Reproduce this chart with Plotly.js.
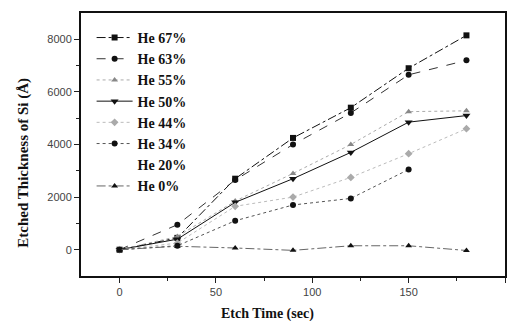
<!DOCTYPE html>
<html><head><meta charset="utf-8">
<script src="https://cdn.plot.ly/plotly-3.0.1.min.js"></script>
<style>html,body{margin:0;padding:0;background:#fff}#chart{width:513px;height:321px}</style>
</head><body><div id="chart"></div>
<script>
const etchTime = [0, 30, 60, 90, 120, 150, 180];
const he67 = [0, 450, 2700, 4250, 5400, 6900, 8150];
const he63 = [0, 950, 2650, 4000, 5200, 6650, 7200];
const he55 = [0, 500, 1850, 2900, 4000, 5250, 5280];
const he50 = [0, 400, 1800, 2700, 3700, 4850, 5100];
const he44 = [0, 250, 1650, 2000, 2750, 3650, 4600];
const he34 = [0, 150, 1100, 1700, 1950, 3050, null];
const he20 = [null, null, null, null, null, null, null];
const he0 = [0, 130, 65, -25, 150, 150, -30];
const seriesNames = ['He 67%', 'He 63%', 'He 55%', 'He 50%', 'He 44%', 'He 34%', 'He 20%', 'He 0%'];
const xTitle = 'Etch Time (sec)';
const yTitle = 'Etched Thickness of Si (Å)';

const styles = [
  {color:'#111', dash:'dashdot', sym:'square', mc:'#111', size:6},
  {color:'#333', dash:'dash', sym:'circle', mc:'#111', size:6},
  {color:'#aaa', dash:'dot', sym:'triangle-up', mc:'#888', size:6},
  {color:'#111', dash:'solid', sym:'triangle-down', mc:'#111', size:7},
  {color:'#bbb', dash:'dot', sym:'diamond-cross', mc:'#aaa', size:6},
  {color:'#555', dash:'dot', sym:'circle', mc:'#111', size:6},
  {color:'rgba(0,0,0,0)', dash:'solid', sym:'circle', mc:'rgba(0,0,0,0)', size:1},
  {color:'#666', dash:'dashdot', sym:'triangle-up', mc:'#111', size:6}
];
const allY = [he67, he63, he55, he50, he44, he34, he20, he0];
const traces = allY.map((y, i) => ({
  x: etchTime, y: y, name: seriesNames[i], type: 'scatter',
  mode: i === 6 ? 'lines' : 'lines+markers',
  connectgaps: false,
  line: {color: styles[i].color, dash: styles[i].dash, width: 1},
  marker: {symbol: styles[i].sym, color: styles[i].mc, size: styles[i].size,
           line: {width: 0}}
}));

const tickFont = {family: 'Liberation Sans, Arial, sans-serif', size: 11, color: '#444'};
const titleFont = {family: 'Liberation Serif, Times New Roman, serif', size: 14, color: '#111', weight: 'bold'};
const layout = {
  width: 513, height: 321,
  margin: {l: 81, r: 8, t: 13, b: 45},
  paper_bgcolor: '#fff', plot_bgcolor: '#fff',
  showlegend: true,
  legend: {x: 0.025, y: 0.966, xanchor: 'left', yanchor: 'top', bgcolor: 'rgba(0,0,0,0)',
           font: {family: 'Liberation Serif, Times New Roman, serif', size: 14, color: '#111', weight: 'bold'},
           tracegroupgap: 0, itemwidth: 36},
  xaxis: {range: [-20, 200], tickvals: [0, 50, 100, 150, 200], ticks: 'outside', ticklen: 5,
          minor: {tickvals: [25, 75, 125, 175], ticks: 'outside', ticklen: 3, tickcolor: '#222'},
          showgrid: false, zeroline: false, showline: true, linecolor: '#111', linewidth: 2, mirror: true,
          tickfont: tickFont, tickcolor: '#222'},
  yaxis: {range: [-1000, 9000], tickvals: [0, 2000, 4000, 6000, 8000], ticks: 'outside', ticklen: 5,
          minor: {tickvals: [1000, 3000, 5000, 7000], ticks: 'outside', ticklen: 3, tickcolor: '#222'},
          showgrid: false, zeroline: false, showline: true, linecolor: '#111', linewidth: 2, mirror: true,
          tickfont: tickFont, tickcolor: '#222'},
  annotations: [
    {text: xTitle, xref: 'paper', yref: 'paper', x: 0.44, y: -0.145, xanchor: 'center', yanchor: 'middle',
     showarrow: false, font: titleFont},
    {text: yTitle, xref: 'paper', yref: 'paper', x: -0.135, y: 0.43, xanchor: 'center', yanchor: 'middle',
     textangle: -90, showarrow: false, font: {family: titleFont.family, size: 15, color: '#111', weight: 'bold'}}
  ]
};
Plotly.newPlot('chart', traces, layout, {displayModeBar: false, staticPlot: true});
</script></body></html>
